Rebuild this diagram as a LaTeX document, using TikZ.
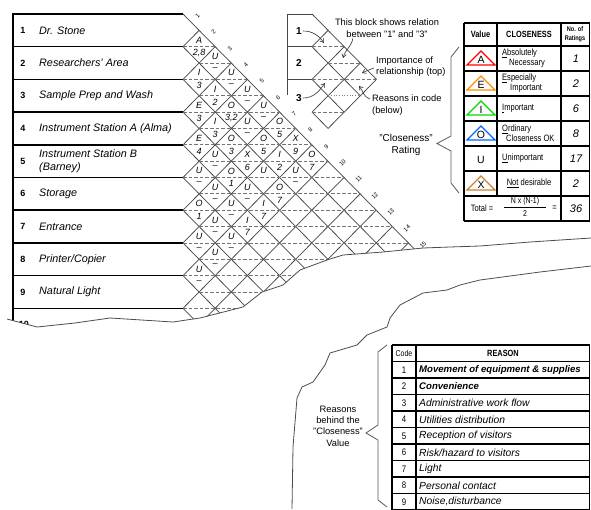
\documentclass[tikz,border=0pt]{standalone}
\usepackage{fontspec}
\setmainfont{Liberation Sans}
\newfontfamily\narrowfont[FakeStretch=0.82]{Liberation Sans}
\usetikzlibrary{arrows.meta}

\tikzset{
  grid/.style={draw=black!72,line width=0.75pt},
  half/.style={draw=black!55,line width=0.8pt,dash pattern=on 3.5pt off 2pt},
  rowline/.style={line width=1.5pt},
  rownum/.style={font=\fontsize{9}{10}\selectfont\bfseries,inner sep=0pt},
  rowname/.style={font=\fontsize{10.8}{13}\selectfont\itshape,anchor=west,align=left,inner sep=0pt},
  cell/.style={font=\fontsize{9}{9}\selectfont\itshape,inner sep=0pt},
  idx/.style={font=\fontsize{6}{7}\selectfont,inner sep=0pt,rotate=45},
  note/.style={font=\fontsize{9.3}{11.3}\selectfont,inner sep=0pt},
  pointer/.style={draw=black!80,line width=0.6pt,-{Straight Barb[length=3.5pt,width=4.5pt]}},
  tabline/.style={line width=1.4pt},
  narrowtxt/.style={font=\fontsize{9.2}{10}\selectfont\narrowfont,inner sep=0pt},
  tear/.style={draw=black!70,line width=0.8pt},
  brace/.style={draw=black!65,line width=0.8pt},
}

\begin{document}
\begin{tikzpicture}[x=1pt,y=-1pt]
\useasboundingbox (0,0) rectangle (591,509);

%主关系表，按撕裂线裁剪
\begin{scope}
  \clip (0,0) -- (591,0) -- (591,238) -- (530,242) -- (480,246) -- (450,247) -- (423,248)
    -- (383,252) -- (343,255) -- (327,260) -- (300,270) -- (283,285) -- (262,292)
    -- (243,307) -- (200,318) -- (173,322) -- (110,318) -- (75,323) -- (37,327)
    -- (7,319) -- (0,319) -- cycle;
  %表格左边线与行线
  \draw[line width=2.2pt] (13,13) -- (13,345);
  \foreach \k in {0,...,10}{\draw[rowline] (13,{14+\k*32.7}) -- (183,{14+\k*32.7});}
  %行号与名称
  \foreach \k/\name in {1/Dr. Stone,2/Researchers' Area,3/Sample Prep and Wash,
      4/Instrument Station A (Alma),5/{Instrument Station B\\(Barney)},6/Storage,
      7/Entrance,8/{Printer/Copier},9/Natural Light}{
    \node[rownum] (n\k) at (23,{14+(\k-0.5)*32.7}) {\k};
    \node[rowname] (r\k) at (39,{14+(\k-0.5)*32.7}) {\name};
  }
  \node[rownum] (n10) at (24,{14+9.5*32.7}) {10};
  %菱形网格：向右下的斜线
  \foreach \m in {0,...,14}{\draw[grid] (183,{14+2*\m*16.35}) -- ++({(15-\m)*16.1},{(15-\m)*16.35});}
  %向右上的斜线
  \foreach \m in {1,...,14}{\draw[grid] (183,{14+2*\m*16.35}) -- ++({\m*16.1},{-\m*16.35});}
  \draw[grid] (199.1,{14+29*16.35}) -- ++({14*16.1},{-14*16.35});
  %每个菱形中间的虚线
  \foreach \n in {2,...,22}{
    \pgfmathsetmacro\xl{183+mod(\n,2)*16.1}
    \pgfmathsetmacro\xr{183+(min(\n-1,29-\n)+1)*16.1}
    \draw[half] (\xl,{14+\n*16.35}) -- (\xr,{14+\n*16.35});
  }
  %斜边上的编号
  \foreach \k in {1,...,15}{\node[idx] (h\k) at ({183+(\k-0.5)*16.1+6.5},{14+(\k-0.5)*16.35-6.5}) {\k};}
  %菱形内的等级与理由
  \foreach \i/\j/\imp/\why in {1/2/A/{2,8},2/3/I/3,3/4/E/3,4/5/E/4,5/6/U/--,6/7/O/1,7/8/U/--,8/9/U/--,
      1/3/U/--,2/4/I/2,3/5/I/3,4/6/U/--,5/7/U/--,6/8/U/--,7/9/U/--,
      1/4/U/--,2/5/O/{3,2},3/6/O/3,4/7/O/1,5/8/U/--,6/9/U/--,
      1/5/U/--,2/6/U/--,3/7/X/6,4/8/U/--,5/9/I/7,
      1/6/U/--,2/7/O/5,3/8/U/{},4/9/I/7,
      1/7/O/5,2/8/I/2,3/9/O/7,
      1/8/X/9,2/9/U/--,
      1/9/O/7}{
    \node[cell] (c\i-\j a) at ({183+(\j-\i)*16.1},{14+(\i+\j-1)*16.35-6.6}) {\imp};
    \node[cell] (c\i-\j b) at ({183+(\j-\i)*16.1},{14+(\i+\j-1)*16.35+6.2}) {\why};
  }
\end{scope}

%撕裂线
\draw[tear] (7,319) -- (37,327) -- (75,323) -- (110,318) -- (173,322) -- (200,318) -- (243,307)
  -- (262,292) -- (283,285) -- (300,270) -- (327,260) -- (343,255) -- (383,252) -- (423,248)
  -- (450,247) -- (480,246) -- (530,242) -- (591,238);
\draw[tear] (591,266) -- (540,272) -- (480,280) -- (460,285) -- (447,290) -- (423,293) -- (400,305)
  -- (390,318) -- (387,327) -- (367,335) -- (357,345) -- (330,353) -- (325,365) -- (313,382)
  -- (302,387) -- (297,398) -- (293,447) -- (292,509);

%示例小块
\draw[grid] (312,14) -- (287,14) -- (287,95);
\draw[grid] (287,46.7) -- (312,46.7);
\draw[grid] (287,79.4) -- (312,79.4);
\foreach \m in {0,...,3}{\draw[grid] (312,{14+2*\m*16.35}) -- ++({(4-\m)*16.1},{(4-\m)*16.35});}
\foreach \m in {1,...,3}{\draw[grid] (312,{14+2*\m*16.35}) -- ++({\m*16.1},{-\m*16.35});}
\draw[grid] (328.1,{14+7*16.35}) -- ++({3*16.1},{-3*16.35});
\foreach \n in {2,3,4,6}{
  \pgfmathsetmacro\xl{312+mod(\n,2)*16.1}
  \pgfmathsetmacro\xr{312+(min(\n-1,7-\n)+1)*16.1}
  \draw[half] (\xl,{14+\n*16.35}) -- (\xr,{14+\n*16.35});
}
\draw[draw=black!50,line width=0.7pt,dotted] (328.1,{14+5*16.35}) -- (360.3,{14+5*16.35});
\node[note,font=\fontsize{10}{11}\selectfont\bfseries] (s1) at (299,31) {1};
\node[note,font=\fontsize{10}{11}\selectfont\bfseries] (s2) at (299,63) {2};
\node[note,font=\fontsize{10}{11}\selectfont\bfseries] (s3) at (299,98) {3};
\node[note,align=center] (nblock) at (387,28.2) {This block shows relation\\between "1" and "3"};
\node[note,align=left,anchor=west] (nimp) at (376,66.5) {Importance of\\relationship (top)};
\node[note,align=left,anchor=west] (nwhy) at (372,105) {Reasons in code\\(below)};
\coordinate (p12) at (324,43);
\coordinate (p23) at (325,83);
\coordinate (p13) at (343,58);
\coordinate (pimp) at (362,73);
\coordinate (pwhy) at (359,86);
\draw[pointer] ([xshift=1pt]s1.east) to[out=0,in=125] (p12);
\draw[pointer] ([xshift=1pt]s3.east) to[out=0,in=-125] (p23);
\draw[pointer] ([xshift=18pt,yshift=-1pt]nblock.south west) to[out=-100,in=75] (p13);
\draw[pointer] ([xshift=-2pt,yshift=-1.5pt]nimp.west) to[out=200,in=25] (pimp);
\draw[pointer] ([xshift=-2pt,yshift=6pt]nwhy.west) to[out=165,in=-50] (pwhy);

%"Closeness" 括号
\node[note,font=\fontsize{10}{12}\selectfont,align=center] (nrate) at (406,145) {"Closeness"\\Rating};
\draw[brace] (459,47) -- (451,57) -- (451,136) -- (437,143.5) -- (451,151) -- (451,183) -- (459,193);

%等级图例表
\foreach \y in {23,46,71,96,121,146,171,196,221}{\draw[tabline] (464,\y) -- (589.5,\y);}
\draw[tabline] (464,23) -- (464,221);
\draw[tabline] (589.5,23) -- (589.5,221);
\draw[tabline] (497,23) -- (497,196);
\draw[tabline] (561,23) -- (561,221);
\node[narrowtxt,font=\fontsize{9}{10}\selectfont\narrowfont\bfseries] (hv) at (480.5,34.5) {Value};
\node[narrowtxt,font=\fontsize{9}{10}\selectfont\narrowfont\bfseries] (hc) at (529,34.5) {CLOSENESS};
\node[narrowtxt,font=\fontsize{6.8}{8.5}\selectfont\narrowfont\bfseries,align=center] (hn) at (575,34.5) {No. of\\Ratings};
\foreach \r/\v/\col in {0/A/red,1/E/orange!90!yellow,2/I/green!85!black,3/O/blue!60!cyan,5/X/brown!80!orange}{
  \draw[draw=\col,line width=1.2pt] (467,{46+25*\r+19}) -- (481,{46+25*\r+5}) -- (495,{46+25*\r+19}) -- cycle;
}
\foreach \r/\v in {0/A,1/E,2/I,3/O,4/U,5/X}{
  \node[note,font=\fontsize{10.5}{11}\selectfont] (v\v) at (481,{46+25*\r+13.5}) {\v};
}
\node[narrowtxt,align=left,anchor=west] (dA) at (502,58.5) {\underline{A}bsolutely\\\hspace*{7pt}Necessary};
\node[narrowtxt,align=left,anchor=west] (dE) at (502,83.5) {\underline{E}specially\\\hspace*{8pt}Important};
\node[narrowtxt,align=left,anchor=west] (dI) at (502,108.5) {\underline{I}mportant};
\node[narrowtxt,align=left,anchor=west] (dO) at (502,133.5) {\underline{O}rdinary\\\hspace*{4pt}Closeness OK};
\node[narrowtxt,align=left,anchor=west] (dU) at (502,158.5) {\underline{U}nimportant};
\node[narrowtxt] (dX) at (529,183.5) {\underline{Not} desirable};
\foreach \r/\cnt in {0/1,1/2,2/6,3/8,4/17,5/2}{
  \node[note,font=\fontsize{11}{12}\selectfont\itshape] (k\r) at (576,{46+25*\r+13}) {\cnt};
}
\node[narrowtxt] (tot) at (482,208.5) {Total =};
\node[narrowtxt,font=\fontsize{8.5}{9}\selectfont\narrowfont] (tnum) at (525,201.5) {N x (N-1)};
\draw[line width=0.6pt] (504,207.5) -- (546,207.5);
\node[narrowtxt,font=\fontsize{8.5}{9}\selectfont\narrowfont] (tden) at (525,214) {2};
\node[narrowtxt] (teq) at (554.5,208.5) {=};
\node[note,font=\fontsize{11}{12}\selectfont\itshape] (t36) at (576,208.5) {36};

%理由括号
\node[note,align=center] (nreason) at (338,426) {Reasons\\behind the\\"Closeness"\\Value};
\draw[brace] (387,345) -- (378,352) -- (378,425) -- (366,433) -- (378,440) -- (378,500) -- (387,507);

%理由表
\foreach \r in {0,...,10}{\draw[tabline] (392,{345+16.5*\r}) -- (589.5,{345+16.5*\r});}
\draw[tabline] (392,345) -- (392,512);
\draw[tabline] (416,345) -- (416,512);
\draw[tabline] (589.5,345) -- (589.5,512);
\node[narrowtxt,font=\fontsize{8.5}{9}\selectfont\narrowfont] (hcode) at (404,353.2) {Code};
\node[narrowtxt,font=\fontsize{9}{9}\selectfont\narrowfont\bfseries] (hreason) at (503,353.2) {REASON};
\foreach \r/\why in {1/Movement of equipment \& supplies,2/Convenience}{
  \node[narrowtxt,font=\fontsize{9.5}{10}\selectfont\narrowfont] (code\r) at (404,{345+16.5*\r+8.4}) {\r};
  \node[note,font=\fontsize{9.6}{10}\selectfont\bfseries\itshape,anchor=west] (why\r) at (419,{345+16.5*\r+8.4}) {\why};
}
\foreach \r/\why in {3/Administrative work flow,4/Utilities distribution,5/Reception of visitors,
    6/{Risk/hazard to visitors},7/Light,8/Personal contact,9/{Noise,disturbance}}{
  \node[narrowtxt,font=\fontsize{9.5}{10}\selectfont\narrowfont] (code\r) at (404,{345+16.5*\r+8.4}) {\r};
  \node[note,font=\fontsize{10.3}{11}\selectfont\itshape,anchor=west] (why\r) at (419,{345+16.5*\r+8.4}) {\why};
}
\end{tikzpicture}
\end{document}
